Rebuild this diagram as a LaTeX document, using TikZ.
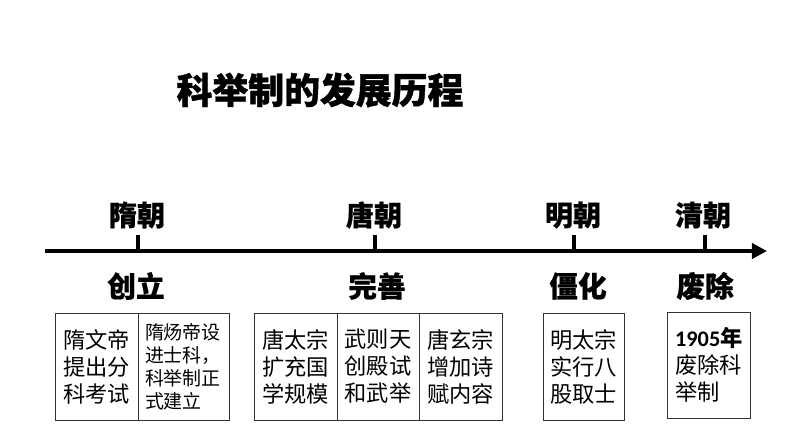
\documentclass[tikz,border=0pt]{standalone}
\usepackage{fontspec}
\setmainfont{Noto Sans CJK SC}
\newfontfamily\digitfont{Carlito}
\usetikzlibrary{arrows.meta}

\begin{document}
\begin{tikzpicture}[x=0.03cm,y=-0.03cm,
  title/.style={font=\fontsize{30.6}{30.6}\selectfont\bfseries\addfontfeatures{FakeBold=1.2}},
  dynasty/.style={font=\fontsize{24}{24}\selectfont\bfseries\addfontfeatures{FakeBold=0.5}},
  stage/.style={font=\fontsize{24.5}{24.5}\selectfont\bfseries\addfontfeatures{FakeBold=0.5}},
  cell/.style={draw=black!80, line width=0.8pt, inner sep=0pt, align=center,
    minimum height=3.21cm, font=\fontsize{19}{23}\selectfont},
  smallcell/.style={cell, font=\fontsize{16.2}{19.6}\selectfont}]

  \useasboundingbox (0,0) rectangle (794,447);

  % Title
  \node[title] (heading) at (320,90) {科举制的发展历程};

  % Time axis
  \coordinate (axisL) at (45,251);
  \coordinate (axisR) at (767,251);
  \draw[line width=4.2pt, -{Triangle[length=13pt,width=13pt]}] (axisL) -- (axisR);

  % Ticks
  \foreach \x/\name in {138/sui,375/tang,574/ming,705/qing}{
    \coordinate (\name) at (\x,251);
    \coordinate (\name top) at (\x,235);
    \draw[line width=3.6pt] (\name) -- (\name top);
  }

  % Dynasties
  \node[dynasty] (suiLabel)  at (137,215) {隋朝};
  \node[dynasty] (tangLabel) at (374,215) {唐朝};
  \node[dynasty] (mingLabel) at (573,215) {明朝};
  \node[dynasty] (qingLabel) at (703,215) {清朝};

  % Stages
  \node[stage] (suiStage)  at (136,286) {创立};
  \node[stage] (tangStage) at (377,286) {完善};
  \node[stage] (mingStage) at (578,286) {僵化};
  \node[stage] (qingStage) at (705,286) {废除};

  % Sui boxes
  \node[cell, minimum width=2.49cm] (suiA) at (96.5,366.5) {隋文帝\\提出分\\科考试};
  \node[smallcell, minimum width=2.73cm, align=left, text width=2.31cm] (suiB) at (183.5,366.5) {隋炀帝设\\进士科，\\科举制正\\式建立};

  % Tang boxes
  \node[cell, minimum width=2.49cm] (tangA) at (295.5,366.5) {唐太宗\\扩充国\\学规模};
  \node[cell, minimum width=2.46cm] (tangB) at (378,366.5) {武则天\\创殿试\\和武举};
  \node[cell, minimum width=2.49cm] (tangC) at (460.5,366.5) {唐玄宗\\增加诗\\赋内容};

  % Ming box
  \node[cell, minimum width=2.43cm] (mingA) at (583.5,366.5) {明太宗\\实行八\\股取士};

  % Qing box
  \node[cell, minimum width=2.49cm, minimum height=3.18cm, align=left,
    text width=2.03cm] (qingA) at (709,365) {{\digitfont\bfseries 1905}\textbf{年}\\废除科\\举制};

\end{tikzpicture}
\end{document}
